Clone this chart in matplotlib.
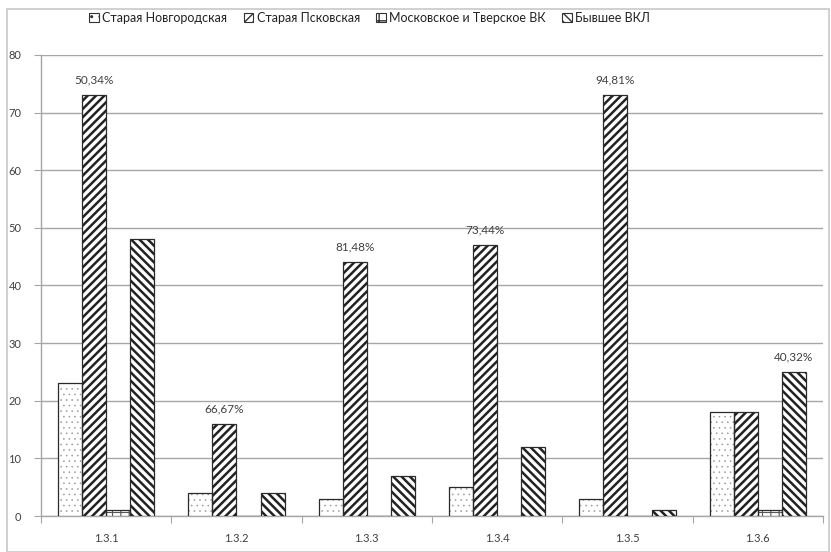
"""Hatched grouped bar chart: distribution by region for sections 1.3.x."""

import matplotlib as mpl
import matplotlib.pyplot as plt
import numpy as np
from matplotlib.patches import Patch, Rectangle

plt.rcParams["font.family"] = ["Lato", "DejaVu Sans"]

categories = ["1.3.1", "1.3.2", "1.3.3", "1.3.4", "1.3.5", "1.3.6"]
series_names = [
    "Старая Новгородская",
    "Старая Псковская",
    "Московское и Тверское ВК",
    "Бывшее ВКЛ",
]
novgorod = [23, 4, 3, 5, 3, 18]
pskov = [73, 16, 44, 47, 73, 18]
moscow = [1, 0, 0, 0, 0, 1]
vkl = [48, 4, 7, 12, 1, 25]

# (series index, category index, label)
percent_labels = [
    (1, 0, "50,34%"),
    (1, 1, "66,67%"),
    (1, 2, "81,48%"),
    (1, 3, "73,44%"),
    (1, 4, "94,81%"),
    (3, 5, "40,32%"),
]

series = [novgorod, pskov, moscow, vkl]
hatches = ["...", "////", "++", "\\\\\\\\"]
hatch_colors = ["#9a9a9a", "#222222", "#555555", "#222222"]
hatch_widths = [0.4, 1.8, 0.8, 1.8]

fig = plt.figure(figsize=(8.31, 5.52), dpi=100)
ax = fig.add_axes([0.0493, 0.0652, 0.9410, 0.8352])

# outer chart frame
fig.patches.append(
    Rectangle((7 / 831, 0.0), 822 / 831, 1 - 9 / 552, transform=fig.transFigure,
              fill=False, edgecolor="#c8c8c8", linewidth=1.2, zorder=0)
)

x = np.arange(len(categories))
w = 0.185
offsets = (np.arange(4) - 1.5) * w

for i, vals in enumerate(series):
    # hatch layer (hatch colour follows edge colour)
    with mpl.rc_context({"hatch.linewidth": hatch_widths[i]}):
        ax.bar(x + offsets[i], vals, w, color="white", edgecolor=hatch_colors[i],
               hatch=hatches[i], linewidth=0, zorder=3)
    # outline layer
    ax.bar(x + offsets[i], vals, w, fill=False, edgecolor="#2a2a2a",
           linewidth=0.9, zorder=4)

for si, ci, txt in percent_labels:
    ax.annotate(txt, (x[ci] + offsets[si], series[si][ci]), xytext=(0, 7),
                textcoords="offset points", ha="center", va="bottom",
                fontsize=8.5, color="#404040")

ax.set_xlim(-0.5, len(categories) - 0.5)
ax.set_ylim(0, 80)
ax.set_yticks(range(0, 81, 10))
ax.yaxis.grid(True, color="#a6a6a6", linewidth=1.0, zorder=0)
ax.set_axisbelow(True)

ax.set_xticks(np.arange(-0.5, len(categories)), labels=[])
ax.set_xticks(x, labels=categories, minor=True)
ax.tick_params(axis="x", which="major", length=5, color="#a6a6a6", direction="out")
ax.tick_params(axis="x", which="minor", length=0, pad=12, labelsize=8, labelcolor="#404040")
ax.tick_params(axis="y", length=5, color="#a6a6a6", labelsize=8, labelcolor="#404040", pad=9)

for side in ["top", "right"]:
    ax.spines[side].set_visible(False)
for side in ["left", "bottom"]:
    ax.spines[side].set_color("#a6a6a6")
    ax.spines[side].set_linewidth(1.0)

legend_hatches = ["..", "////", "++", "\\\\\\\\"]
handles = []
for i in range(4):
    with mpl.rc_context({"hatch.linewidth": min(hatch_widths[i], 1.0)}):
        handles.append(Patch(facecolor="white", edgecolor="#333333",
                             hatch=legend_hatches[i], label=series_names[i]))
leg = fig.legend(handles=handles, loc="center", bbox_to_anchor=(0.445, 0.967), ncol=4,
                 frameon=False, fontsize=9.0, handlelength=0.75, handleheight=0.75,
                 handletextpad=0.3, columnspacing=1.3, labelcolor="#222222")
for h in leg.legend_handles:
    h.set_linewidth(0.8)

fig.savefig("out.png", dpi=100)
